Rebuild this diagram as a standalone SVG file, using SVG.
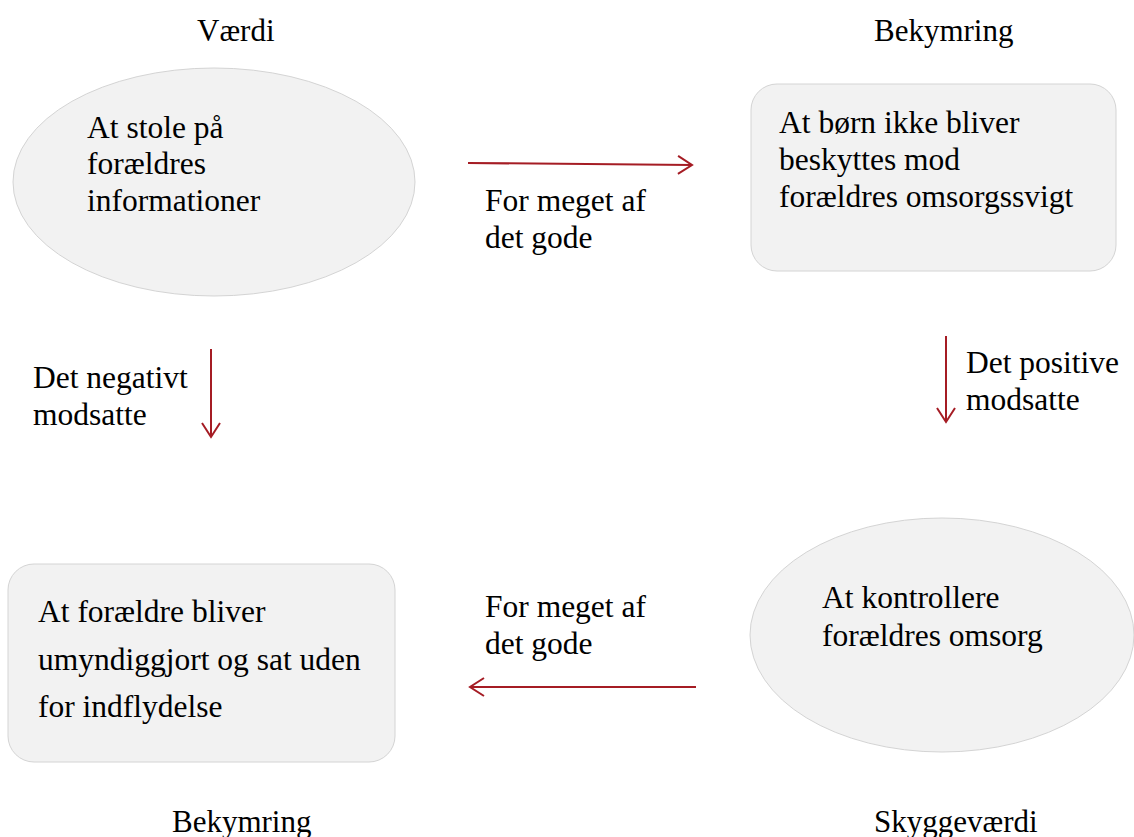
<svg xmlns="http://www.w3.org/2000/svg" width="1134" height="837" viewBox="0 0 1134 837">
<style>
.t{font-family:"Liberation Serif","Times New Roman",serif;font-size:31.5px;fill:#000}
.h{font-size:31px}
.n{fill:#f2f2f2;stroke:#d4d4d4;stroke-width:1}
.c{stroke:#a51c24;stroke-width:2;fill:none}
</style>
<defs>
<marker id="ah" viewBox="0 0 20 20" refX="16" refY="10" markerWidth="20" markerHeight="20" markerUnits="userSpaceOnUse" orient="auto">
<path d="M2,1 L16,10 L2,19" fill="none" stroke="#a51c24" stroke-width="2"/>
</marker>
</defs>
<rect width="1134" height="837" fill="#fff"/>
<g id="titles">
<text class="t h" x="197" y="41">Værdi</text>
<text class="t h" x="874" y="41">Bekymring</text>
<text class="t h" x="172" y="832">Bekymring</text>
<text class="t h" x="874" y="832">Skyggeværdi</text>
</g>
<g id="node-vaerdi">
<ellipse class="n" cx="214" cy="182" rx="201" ry="114"/>
<text class="t" x="87" y="138">At stole på</text>
<text class="t" x="87" y="174">forældres</text>
<text class="t" x="87" y="211">informationer</text>
</g>
<g id="node-bekymring-top">
<rect class="n" x="751" y="84" width="365" height="187" rx="26"/>
<text class="t" x="779" y="133">At børn ikke bliver</text>
<text class="t" x="779" y="170">beskyttes mod</text>
<text class="t" x="779" y="207">forældres omsorgssvigt</text>
</g>
<g id="node-bekymring-bottom">
<rect class="n" x="8" y="564" width="387" height="198" rx="26"/>
<text class="t" x="38" y="622">At forældre bliver</text>
<text class="t" x="38" y="670">umyndiggjort og sat uden</text>
<text class="t" x="38" y="717">for indflydelse</text>
</g>
<g id="node-skyggevaerdi">
<ellipse class="n" cx="942" cy="635" rx="192" ry="117"/>
<text class="t" x="822" y="608">At kontrollere</text>
<text class="t" x="822" y="646">forældres omsorg</text>
</g>
<g id="connectors">
<line class="c" x1="468" y1="163" x2="692" y2="165" marker-end="url(#ah)"/>
<line class="c" x1="211" y1="349" x2="211" y2="437" marker-end="url(#ah)"/>
<line class="c" x1="946" y1="336" x2="946" y2="422" marker-end="url(#ah)"/>
<line class="c" x1="696" y1="687" x2="470" y2="687" marker-end="url(#ah)"/>
</g>
<g id="labels">
<text class="t" x="485" y="211">For meget af</text>
<text class="t" x="485" y="248">det gode</text>
<text class="t" x="33" y="388">Det negativt</text>
<text class="t" x="33" y="425">modsatte</text>
<text class="t" x="966" y="373">Det positive</text>
<text class="t" x="966" y="410">modsatte</text>
<text class="t" x="485" y="617">For meget af</text>
<text class="t" x="485" y="654">det gode</text>
</g>
</svg>
